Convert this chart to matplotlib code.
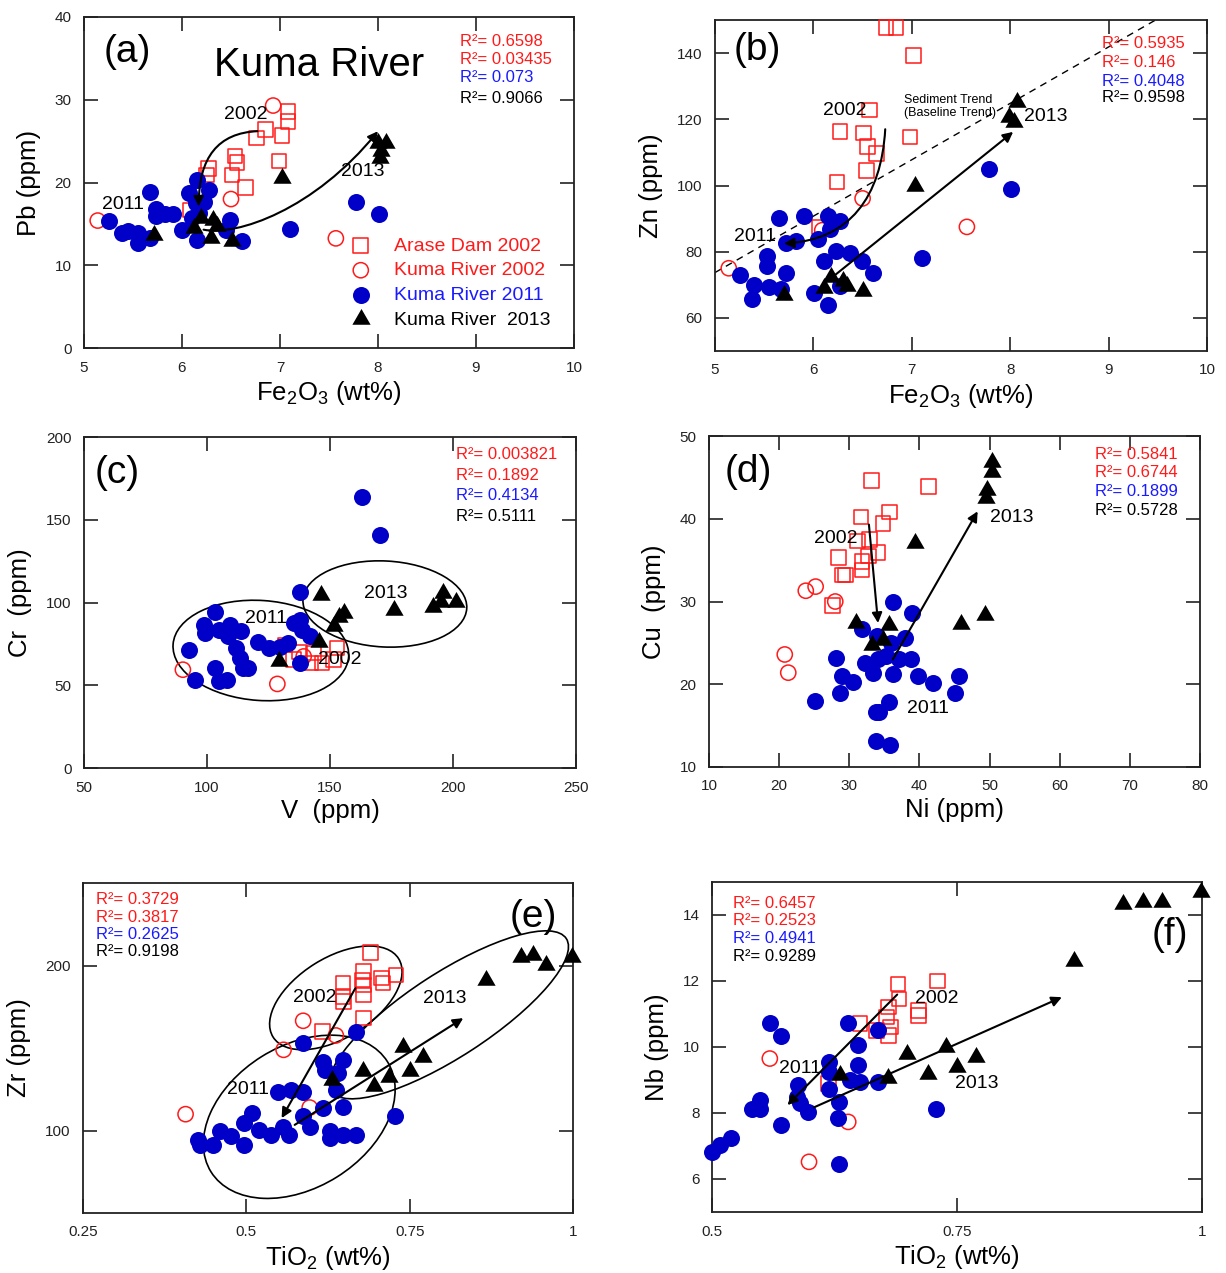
import numpy as np
import matplotlib.pyplot as plt
from matplotlib.patches import Ellipse, FancyArrowPatch
from matplotlib.path import Path
from matplotlib.transforms import ScaledTranslation

plt.rcParams['font.family'] = ['Liberation Sans', 'DejaVu Sans']
plt.rcParams['mathtext.fontset'] = 'custom'
plt.rcParams['mathtext.rm'] = 'Liberation Sans'

RED = '#ff1a1a'
BLUE = '#0000c8'
TBLUE = '#1a1aff'

series_labels = ['Arase Dam 2002', 'Kuma River 2002', 'Kuma River 2011', 'Kuma River  2013']

# ---------------- (a) Fe2O3 vs Pb
a_dam_x = [7.08, 7.08, 6.85, 6.76, 7.02, 6.54, 6.56, 6.99, 6.27, 6.25, 6.51, 6.65, 6.08]
a_dam_y = [28.6, 27.4, 26.4, 25.4, 25.7, 23.2, 22.4, 22.6, 21.7, 20.9, 20.9, 19.4, 16.7]
a_r02_x = [6.93, 6.50, 5.14, 7.57]
a_r02_y = [29.3, 18.0, 15.4, 13.25]
a_r11_x = [5.26, 5.39, 5.45, 5.55, 5.55, 5.67, 5.67, 5.73, 5.73, 5.83, 5.91, 6.15, 6.07, 6.28,
           6.14, 6.22, 6.10, 6.17, 6.00, 6.15, 6.49, 6.45, 6.61, 7.10, 7.78, 8.01]
a_r11_y = [15.4, 13.9, 14.1, 13.9, 12.7, 13.3, 18.8, 16.8, 15.9, 16.2, 16.2, 20.3, 18.7, 19.1,
           17.5, 17.7, 15.7, 16.3, 14.3, 13.1, 15.5, 14.3, 12.9, 14.4, 17.6, 16.2]
a_r13_x = [5.71, 6.12, 6.19, 6.32, 6.36, 6.30, 6.51, 7.02, 8.00, 8.08, 8.03, 8.02]
a_r13_y = [13.7, 14.5, 15.7, 15.5, 14.7, 13.3, 12.9, 20.5, 24.8, 24.8, 23.8, 23.0]
a_r2 = ['0.6598', '0.03435', '0.073', '0.9066']

# ---------------- (b) Fe2O3 vs Zn
b_dam_x = [6.74, 6.84, 7.02, 6.57, 6.27, 6.51, 6.55, 6.64, 6.98, 6.54, 6.24, 6.06]
b_dam_y = [147.8, 147.8, 139.3, 122.8, 116.3, 115.8, 111.7, 109.7, 114.7, 104.6, 101.1, 87.5]
b_r02_x = [6.50, 7.56, 5.14, 6.09]
b_r02_y = [96.1, 87.5, 75.0, 86.5]
b_r11_x = [5.25, 5.40, 5.38, 5.53, 5.53, 5.55, 5.65, 5.72, 5.72, 5.67, 5.82, 5.90, 6.05, 6.15,
           6.27, 6.17, 6.23, 6.11, 6.37, 6.49, 6.61, 6.01, 6.15, 6.27, 7.10, 7.78, 8.01]
b_r11_y = [73.0, 70.0, 65.6, 78.8, 75.8, 69.3, 90.3, 82.7, 73.6, 68.6, 83.2, 90.8, 83.8, 90.8,
           89.3, 86.8, 80.2, 77.2, 79.7, 77.2, 73.6, 67.5, 64.0, 69.5, 78.1, 105.0, 98.9]
b_r13_x = [5.70, 6.11, 6.18, 6.30, 6.34, 6.50, 7.03, 8.07, 7.99, 8.04]
b_r13_y = [66.9, 69.0, 72.5, 71.0, 69.5, 68.0, 99.9, 125.2, 120.6, 119.1]
b_r2 = ['0.5935', '0.146', '0.4048', '0.9598']
b_trend_x = [5.0, 10.0]
b_trend_y = [73.7, 158.9]

# ---------------- (c) V vs Cr
c_dam_x = [131.7, 135.2, 142.0, 143.3, 146.8, 152.9, 151.5, 137.5]
c_dam_y = [74.4, 65.4, 63.4, 69.4, 63.4, 72.4, 65.4, 70.0]
c_r02_x = [90.2, 128.6, 139.3]
c_r02_y = [59.4, 50.8, 67.4]
c_r11_x = [163.2, 170.3, 137.8, 103.4, 98.9, 99.3, 92.5, 95.2, 103.4, 104.7, 108.2, 105.0, 109.2,
           113.9, 108.5, 111.9, 113.3, 114.7, 116.8, 120.9, 125.0, 129.7, 133.1, 135.2, 137.9,
           138.6, 142.0, 137.9]
c_r11_y = [163.6, 141.0, 106.1, 94.1, 86.5, 81.5, 71.4, 53.0, 60.4, 52.4, 53.4, 83.5, 86.5,
           82.5, 79.5, 72.4, 66.4, 60.4, 60.4, 76.4, 72.4, 73.4, 75.4, 87.5, 89.5, 83.5, 79.5, 63.4]
c_r13_x = [129.2, 145.5, 146.5, 151.6, 155.7, 153.6, 176.1, 191.7, 195.8, 201.2, 195.1]
c_r13_y = [64.4, 76.4, 104.5, 85.5, 93.5, 91.5, 95.5, 97.5, 105.5, 100.5, 100.5]
c_r2 = ['0.003821', '0.1892', '0.4134', '0.5111']

# ---------------- (d) Ni vs Cu
d_dam_x = [33.2, 41.3, 35.7, 31.7, 34.8, 32.9, 31.2, 34.1, 32.7, 31.8, 28.5, 29.0, 29.5, 31.8, 27.6]
d_dam_y = [44.6, 43.9, 40.8, 40.2, 39.4, 37.5, 37.3, 35.9, 35.5, 34.8, 35.3, 33.2, 33.2, 33.8, 29.5]
d_r02_x = [23.8, 25.2, 28.0, 20.8, 21.3]
d_r02_y = [31.3, 31.8, 30.0, 23.6, 21.4]
d_r11_x = [36.2, 38.9, 37.9, 31.8, 28.1, 32.2, 33.4, 34.1, 35.3, 36.2, 37.1, 38.8, 29.0, 30.6,
           28.7, 25.1, 39.8, 41.9, 45.6, 45.0, 35.7, 34.3, 33.8, 33.8, 35.8, 34.0, 36.0]
d_r11_y = [30.0, 28.6, 25.6, 26.7, 23.2, 22.6, 21.4, 23.0, 23.4, 21.2, 23.0, 23.0, 21.0, 20.3,
           18.9, 18.0, 21.0, 20.2, 21.0, 19.0, 17.9, 16.7, 16.6, 13.1, 12.6, 25.8, 25.0]
d_r13_x = [31.0, 35.6, 33.3, 34.8, 39.4, 45.9, 49.3, 50.4, 50.4, 49.7, 49.5]
d_r13_y = [27.4, 27.2, 24.8, 25.4, 37.1, 27.3, 28.4, 46.9, 45.7, 43.5, 42.5]
d_r2 = ['0.5841', '0.6744', '0.1899', '0.5728']

# ---------------- (e) TiO2 vs Zr
e_dam_x = [0.690, 0.679, 0.678, 0.679, 0.648, 0.649, 0.648, 0.679, 0.707, 0.709, 0.729, 0.679, 0.617]
e_dam_y = [207.9, 196.4, 191.3, 188.3, 189.3, 178.2, 181.2, 182.2, 192.3, 189.3, 194.3, 168.1, 160.0]
e_r02_x = [0.587, 0.637, 0.557, 0.597, 0.407]
e_r02_y = [166.5, 157.6, 148.9, 113.9, 109.9]
e_r11_x = [0.668, 0.587, 0.617, 0.648, 0.620, 0.640, 0.638, 0.548, 0.569, 0.587, 0.508, 0.497,
           0.617, 0.648, 0.587, 0.597, 0.520, 0.538, 0.556, 0.566, 0.727, 0.628, 0.648, 0.668,
           0.628, 0.459, 0.477, 0.497, 0.429, 0.449, 0.426]
e_r11_y = [159.6, 153.3, 141.8, 142.8, 136.8, 134.7, 124.6, 123.6, 124.6, 123.6, 110.5, 104.4,
           113.5, 114.5, 108.5, 102.4, 100.4, 97.4, 102.4, 97.4, 108.5, 99.4, 97.4, 97.4,
           95.4, 99.4, 96.4, 91.3, 91.3, 91.3, 94.3]
e_r13_x = [0.631, 0.679, 0.696, 0.719, 0.740, 0.750, 0.770, 0.867, 0.921, 0.939, 0.959, 0.999]
e_r13_y = [130.7, 135.8, 126.7, 132.7, 150.9, 135.8, 144.4, 191.3, 205.1, 206.5, 200.4, 205.1]
e_r2 = ['0.3729', '0.3817', '0.2625', '0.9198']

# ---------------- (f) TiO2 vs Nb
f_dam_x = [0.690, 0.730, 0.691, 0.680, 0.711, 0.711, 0.678, 0.651, 0.682, 0.680, 0.668, 0.619]
f_dam_y = [11.91, 12.0, 11.46, 11.21, 11.11, 10.96, 10.91, 10.71, 10.60, 10.35, 10.5, 8.89]
f_r02_x = [0.559, 0.639, 0.599]
f_r02_y = [9.65, 7.73, 6.52]
f_r11_x = [0.559, 0.570, 0.639, 0.669, 0.649, 0.619, 0.649, 0.619, 0.641, 0.651, 0.669, 0.619,
           0.588, 0.587, 0.590, 0.598, 0.630, 0.629, 0.549, 0.541, 0.549, 0.570, 0.519, 0.508,
           0.500, 0.729, 0.630]
f_r11_y = [10.73, 10.33, 10.73, 10.53, 10.05, 9.55, 9.45, 9.24, 8.99, 8.94, 8.94, 8.74,
           8.84, 8.49, 8.29, 8.04, 8.34, 7.86, 8.39, 8.11, 8.11, 7.63, 7.23, 7.03,
           6.83, 8.11, 6.45]
f_r13_x = [0.631, 0.680, 0.699, 0.720, 0.739, 0.750, 0.769, 0.869, 0.919, 0.940, 0.959, 0.999]
f_r13_y = [9.14, 9.07, 9.80, 9.19, 10.0, 9.40, 9.70, 12.60, 14.33, 14.38, 14.38, 14.69]
f_r2 = ['0.6457', '0.2523', '0.4941', '0.9289']

W, H = 1226, 1273
fig = plt.figure(figsize=(W / 100, H / 100), dpi=100)


def add_ax(l, t, r, b):
    return fig.add_axes([l / W, 1 - b / H, (r - l) / W, (b - t) / H])


def plot_series(ax, dam, r02, r11, r13):
    h1 = ax.scatter(*dam, marker='s', s=110, facecolors='none', edgecolors=RED, linewidths=1.1,
                    zorder=3, clip_on=False)
    h2 = ax.scatter(*r02, marker='o', s=120, facecolors='none', edgecolors=RED, linewidths=1.1,
                    zorder=3, clip_on=False)
    h3 = ax.scatter(*r11, marker='o', s=150, color=BLUE, linewidths=0, zorder=4, clip_on=False)
    h4 = ax.scatter(*r13, marker=(3, 0, 0), s=230, color='k', linewidths=0, zorder=5, clip_on=False)
    return [h1, h2, h3, h4]


def style(ax, xlim, ylim, xticks, yticks, xlabel, ylabel, xtl=None):
    ax.set_xlim(xlim)
    ax.set_ylim(ylim)
    ax.set_xticks(xticks)
    ax.set_yticks(yticks)
    if xtl is not None:
        ax.set_xticklabels(xtl)
    ax.tick_params(direction='in', length=10, width=1.2, top=True, right=True,
                   labelsize=11, pad=9, colors='#222222')
    for sp in ax.spines.values():
        sp.set_linewidth(1.3)
        sp.set_color('#222222')
    ax.set_xlabel(xlabel, fontsize=18.5, labelpad=3)
    ax.set_ylabel(ylabel, fontsize=18.5, labelpad=10)


def r2_block(ax, x, ys, vals):
    cols = [RED, RED, TBLUE, 'k']
    for y, v, c in zip(ys, vals, cols):
        ax.text(x, y, 'R\u00b2= ' + v, color=c, fontsize=12, transform=ax.transAxes,
                ha='left', va='center')


def arrow(ax, pts):
    n = len(pts)
    if n == 2:
        codes = [Path.MOVETO, Path.LINETO]
    elif n == 3:
        codes = [Path.MOVETO, Path.CURVE3, Path.CURVE3]
    else:
        codes = [Path.MOVETO, Path.CURVE4, Path.CURVE4, Path.CURVE4]
    p = FancyArrowPatch(path=Path(pts, codes), arrowstyle='-|>', mutation_scale=15,
                        lw=1.5, color='k', zorder=6)
    ax.add_patch(p)


def ellipse(ax, cx, cy, a_px, b_px, ang):
    tr = fig.dpi_scale_trans + ScaledTranslation(cx, cy, ax.transData)
    e = Ellipse((0, 0), 2 * a_px / 100, 2 * b_px / 100, angle=ang, transform=tr,
                fill=False, lw=1.2, color='k', zorder=2)
    ax.add_patch(e)


def year(ax, x, y, s):
    ax.text(x, y, s, fontsize=14, ha='center', va='center', zorder=7)


# ---------------- panel (a)
ax = add_ax(84, 17, 574, 348)
hs = plot_series(ax, (a_dam_x, a_dam_y), (a_r02_x, a_r02_y), (a_r11_x, a_r11_y), (a_r13_x, a_r13_y))
style(ax, (5, 10), (0, 40), range(5, 11), range(0, 41, 10), 'Fe$_2$O$_3$ (wt%)', 'Pb (ppm)')
r2_block(ax, 0.767, [0.925, 0.872, 0.816, 0.754], a_r2)
ax.text(0.088, 0.895, '(a)', fontsize=28, transform=ax.transAxes, ha='center', va='center')
ax.text(0.48, 0.855, 'Kuma River', fontsize=29, transform=ax.transAxes, ha='center', va='center')
arrow(ax, [(6.77, 26.2), (6.17, 25.9), (6.17, 17.1)])
arrow(ax, [(6.22, 14.3), (6.56, 13.5), (7.35, 16.7), (8.0, 26.2)])
year(ax, 6.65, 28.2, '2002')
year(ax, 5.40, 17.3, '2011')
year(ax, 7.84, 21.3, '2013')
ax.legend(hs, series_labels, loc='upper left', bbox_to_anchor=(0.545, 0.335), frameon=False,
          fontsize=14, handletextpad=1.2, labelspacing=0.36, handlelength=1.0, borderpad=0,
          borderaxespad=0, scatterpoints=1, labelcolor=[RED, RED, TBLUE, 'k'])

# ---------------- panel (b)
ax = add_ax(715, 20, 1207, 351)
plot_series(ax, (b_dam_x, b_dam_y), (b_r02_x, b_r02_y), (b_r11_x, b_r11_y), (b_r13_x, b_r13_y))
ax.plot(b_trend_x, b_trend_y, color='k', lw=1.0, ls=(0, (5, 4)), zorder=2)
style(ax, (5, 10), (50, 150), range(5, 11), range(60, 141, 20), 'Fe$_2$O$_3$ (wt%)', 'Zn (ppm)')
r2_block(ax, 0.787, [0.93, 0.871, 0.813, 0.766], b_r2)
ax.text(0.087, 0.91, '(b)', fontsize=28, transform=ax.transAxes, ha='center', va='center')
ax.text(6.92, 124.0, 'Sediment Trend\n(Baseline Trend)', fontsize=9, ha='left', va='center',
        linespacing=1.1, zorder=7)
arrow(ax, [(6.73, 117.0), (6.69, 96.6), (6.37, 83.5), (5.70, 82.5)])
arrow(ax, [(6.18, 72.0), (8.03, 116.2)])
year(ax, 6.32, 122.7, '2002')
year(ax, 5.41, 84.5, '2011')
year(ax, 8.36, 120.7, '2013')

# ---------------- panel (c)
ax = add_ax(84, 437, 576, 768)
plot_series(ax, (c_dam_x, c_dam_y), (c_r02_x, c_r02_y), (c_r11_x, c_r11_y), (c_r13_x, c_r13_y))
style(ax, (50, 250), (0, 200), range(50, 251, 50), range(0, 201, 50), 'V  (ppm)', 'Cr  (ppm)')
r2_block(ax, 0.756, [0.946, 0.885, 0.823, 0.761], c_r2)
ax.text(0.067, 0.89, '(c)', fontsize=28, transform=ax.transAxes, ha='center', va='center')
ellipse(ax, 121.9, 71.0, 88, 50, -4)
ellipse(ax, 172.3, 99.1, 82, 43, -3)
year(ax, 123.8, 90.5, '2011')
year(ax, 172.7, 105.5, '2013')
year(ax, 153.9, 65.4, '2002')

# ---------------- panel (d)
ax = add_ax(709, 436, 1200, 767)
plot_series(ax, (d_dam_x, d_dam_y), (d_r02_x, d_r02_y), (d_r11_x, d_r11_y), (d_r13_x, d_r13_y))
style(ax, (10, 80), (10, 50), range(10, 81, 10), range(10, 51, 10), 'Ni (ppm)', 'Cu  (ppm)')
r2_block(ax, 0.786, [0.943, 0.889, 0.832, 0.776], d_r2)
ax.text(0.081, 0.89, '(d)', fontsize=28, transform=ax.transAxes, ha='center', va='center')
arrow(ax, [(32.8, 39.3), (34.1, 27.4)])
arrow(ax, [(36.2, 23.0), (48.3, 40.9)])
year(ax, 28.1, 37.6, '2002')
year(ax, 53.1, 40.2, '2013')
year(ax, 41.2, 17.1, '2011')

# ---------------- panel (e)
ax = add_ax(83, 883, 573, 1213)
plot_series(ax, (e_dam_x, e_dam_y), (e_r02_x, e_r02_y), (e_r11_x, e_r11_y), (e_r13_x, e_r13_y))
style(ax, (0.25, 1.0), (50, 250), [0.25, 0.5, 0.75, 1.0], [100, 200], 'TiO$_2$ (wt%)', 'Zr (ppm)',
      xtl=['0.25', '0.5', '0.75', '1'])
r2_block(ax, 0.027, [0.950, 0.894, 0.844, 0.791], e_r2)
ax.text(0.918, 0.897, '(e)', fontsize=28, transform=ax.transAxes, ha='center', va='center')
ellipse(ax, 0.637, 180.4, 74, 40, 32)
ellipse(ax, 0.581, 108.3, 104, 71, 32)
ellipse(ax, 0.810, 170.1, 140, 42, 33)
arrow(ax, [(0.667, 186.3), (0.554, 107.5)])
arrow(ax, [(0.574, 103.4), (0.832, 168.1)])
year(ax, 0.605, 180.8, '2002')
year(ax, 0.804, 180.2, '2013')
year(ax, 0.503, 124.6, '2011')

# ---------------- panel (f)
ax = add_ax(712, 882, 1202, 1212)
plot_series(ax, (f_dam_x, f_dam_y), (f_r02_x, f_r02_y), (f_r11_x, f_r11_y), (f_r13_x, f_r13_y))
style(ax, (0.5, 1.0), (5, 15), [0.5, 0.75, 1.0], range(6, 15, 2), 'TiO$_2$ (wt%)', 'Nb (ppm)',
      xtl=['0.5', '0.75', '1'])
r2_block(ax, 0.042, [0.935, 0.884, 0.829, 0.773], f_r2)
ax.text(0.935, 0.84, '(f)', fontsize=28, transform=ax.transAxes, ha='center', va='center')
arrow(ax, [(0.689, 11.59), (0.577, 8.24)])
arrow(ax, [(0.604, 8.17), (0.857, 11.51)])
year(ax, 0.729, 11.48, '2002')
year(ax, 0.590, 9.35, '2011')
year(ax, 0.770, 8.89, '2013')

fig.savefig('out.png', dpi=100)
